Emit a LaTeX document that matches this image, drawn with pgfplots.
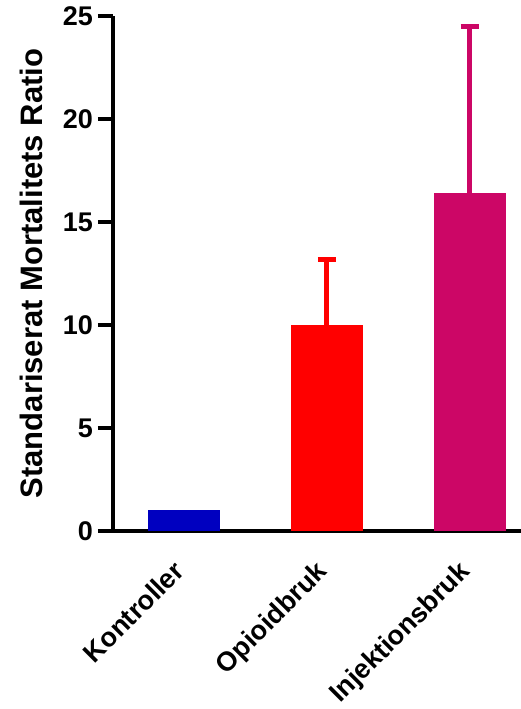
\documentclass[border=0pt]{standalone}
\usepackage{pgfplots}
\pgfplotsset{compat=1.18}
\usepackage{fontspec}
\setmainfont{Liberation Sans}
\definecolor{cblue}{RGB}{0,0,192}
\definecolor{cred}{RGB}{255,0,0}
\definecolor{cmag}{RGB}{204,6,102}
\begin{document}
\begin{tikzpicture}
\path[use as bounding box] (-113pt,-178pt) rectangle (408pt,531pt);
\begin{axis}[
  width=408pt, height=515pt, scale only axis,
  xmin=-0.5, xmax=2.36, ymin=0, ymax=25,
  axis lines=left,
  axis line style={-, line width=3.5pt, black},
  ytick={0,5,10,15,20,25},
  xtick={0,1,2},
  xticklabels={Kontroller,Opioidbruk,Injektionsbruk},
  tick align=outside,
  y tick style={line width=3.5pt, black},
  x tick style={draw=none},
  major tick length=15pt,
  /pgf/number format/assume math mode=true,
  yticklabel style={font=\bfseries\fontsize{27}{27}\selectfont, inner sep=0pt, xshift=-5pt},
  xticklabel style={font=\bfseries\fontsize{27}{27}\selectfont, rotate=45, anchor=north east, inner sep=0pt, xshift=-18pt, yshift=-0.5pt},
  ylabel={Standariserat Mortalitets Ratio},
  ylabel style={font=\bfseries\fontsize{31}{31}\selectfont, at={([xshift=-70pt]axis description cs:0,0.5)}, anchor=base, rotate=0, inner sep=0pt},
  clip=false,
]
\addplot[ybar, bar width=72pt, bar shift=0pt, fill=cblue, draw=none] coordinates {(0,1.0)};
\addplot[ybar, bar width=72pt, bar shift=0pt, fill=cred, draw=none,
  error bars/.cd, y dir=plus, y explicit,
  error bar style={line width=5pt, draw=cred},
  error mark options={rotate=90, line width=5pt, mark size=9pt, draw=cred}]
  coordinates {(1,10.0) +- (0,3.2)};
\addplot[ybar, bar width=72pt, bar shift=0pt, fill=cmag, draw=none,
  error bars/.cd, y dir=plus, y explicit,
  error bar style={line width=5pt, draw=cmag},
  error mark options={rotate=90, line width=5pt, mark size=9pt, draw=cmag}]
  coordinates {(2,16.4) +- (0,8.1)};
\end{axis}
\end{tikzpicture}
\end{document}
